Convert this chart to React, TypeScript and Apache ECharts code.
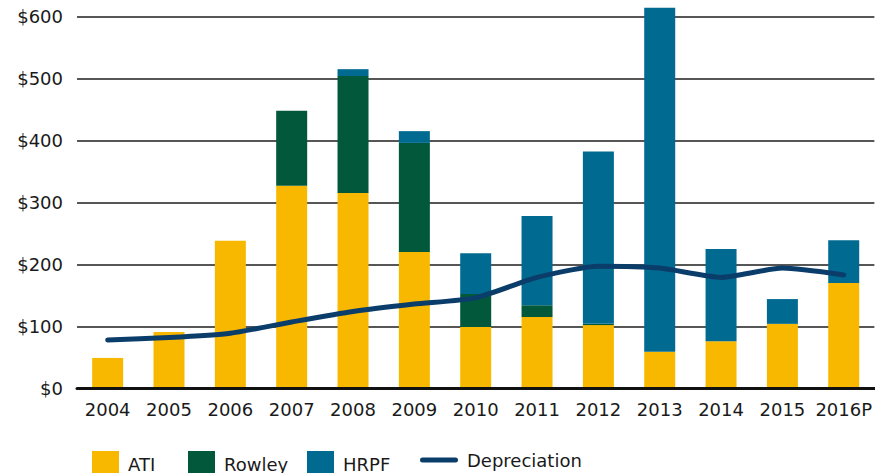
import React, { useEffect, useRef } from "react";
import * as echarts from "echarts";

const categories = ["2004", "2005", "2006", "2007", "2008", "2009", "2010", "2011", "2012", "2013", "2014", "2015", "2016P"];
const ati = [49, 91, 238, 327, 315, 220, 99, 115, 102, 59, 76, 104, 170];
const rowley = [0, 0, 0, 121, 189, 176, 53, 19, 2, 0, 0, 0, 0];
const hrpf = [0, 0, 0, 0, 11, 19, 66, 144, 278, 555, 149, 40, 69];
const depreciation = [78, 82, 89, 107, 124, 136, 146, 179, 197, 194, 179, 194, 183];
const yTicks = [0, 100, 200, 300, 400, 500, 600];

const FONT = "'DejaVu Sans', sans-serif";
const COLORS = { ati: "#F9B800", rowley: "#02583B", hrpf: "#006A91", dep: "#0B3D6B" };
const LINE_ICON = "path://M2.5,0 L35.5,0 A2.5,2.5 0 0 1 35.5,5 L2.5,5 A2.5,2.5 0 0 1 2.5,0 Z";

export default function App() {
  const ref = useRef<HTMLDivElement>(null);
  useEffect(() => {
    if (!ref.current) return;
    const chart = echarts.init(ref.current, undefined, { renderer: "svg" });
    const legendText = { fontFamily: FONT, fontSize: 18, color: "#1a1a1a", padding: [5, 0, 0, 4] };
    const legendItem = (name: string, left: number, icon: string, w: number) => ({
      data: [name],
      left,
      top: 451,
      padding: 0,
      icon,
      itemWidth: w,
      itemHeight: 27,
      textStyle: legendText,
      selectedMode: false,
    });
    chart.setOption({
      animation: false,
      grid: { left: 77, top: 16.5, height: 371.8, width: 799, containLabel: false },
      legend: [
        legendItem("ATI", 92, "rect", 27),
        legendItem("Rowley", 188, "rect", 27),
        legendItem("HRPF", 307, "rect", 27),
        legendItem("Depreciation", 420, LINE_ICON, 38),
      ],
      xAxis: {
        type: "category",
        data: categories,
        axisLine: { lineStyle: { color: "#111", width: 3 } },
        axisTick: { show: false },
        axisLabel: { fontFamily: FONT, fontSize: 18, color: "#1a1a1a", margin: 12, interval: 0 },
        z: 5,
      },
      yAxis: {
        type: "value",
        min: yTicks[0],
        max: yTicks[yTicks.length - 1],
        interval: 100,
        axisLine: { show: false },
        axisTick: { show: false },
        axisLabel: { fontFamily: FONT, fontSize: 18, color: "#1a1a1a", margin: 14, formatter: (v: number) => "$" + v },
        splitLine: { lineStyle: { color: "#1e1e1e", width: 1.5 } },
      },
      series: [
        { name: "ATI", type: "bar", stack: "cap", data: ati, barWidth: 31, itemStyle: { color: COLORS.ati }, clip: false },
        { name: "Rowley", type: "bar", stack: "cap", data: rowley, barWidth: 31, itemStyle: { color: COLORS.rowley }, clip: false },
        { name: "HRPF", type: "bar", stack: "cap", data: hrpf, barWidth: 31, itemStyle: { color: COLORS.hrpf }, clip: false },
        {
          name: "Depreciation",
          type: "line",
          data: depreciation,
          symbol: "none",
          smooth: 0.2,
          lineStyle: { color: COLORS.dep, width: 5, cap: "round", join: "round" },
          itemStyle: { color: COLORS.dep },
          z: 10,
        },
      ],
    });
    return () => chart.dispose();
  }, []);
  return <div ref={ref} style={{ width: 875, height: 473, position: "absolute", left: 0, top: 0 }} />;
}
